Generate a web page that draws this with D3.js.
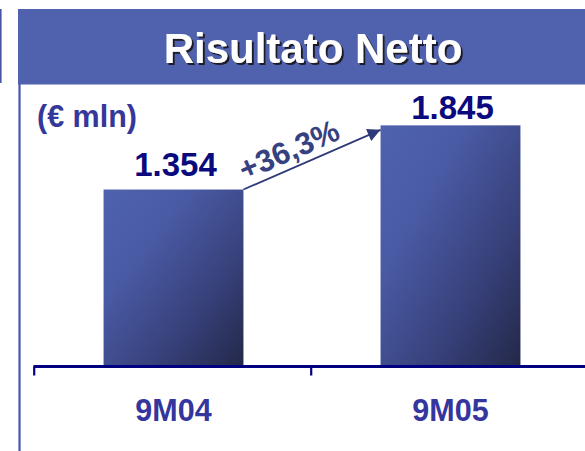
<!DOCTYPE html>
<html>
<head>
<meta charset="utf-8">
<script src="https://cdn.jsdelivr.net/npm/d3@7/dist/d3.min.js"></script>
<style>
  html, body { margin: 0; padding: 0; background: #fff; }
  svg { display: block; }
  text { font-family: "Liberation Sans", Arial, Helvetica, sans-serif; font-weight: bold; }
</style>
</head>
<body>
<svg id="chart" width="585" height="451"></svg>
<script>
// ---- data ----
const categories = ["9M04", "9M05"];
const values = [1354, 1845];
const valueLabels = ["1.354", "1.845"];
const growthLabel = "+36,3%";
const titleText = "Risultato Netto";
const unitText = "(€ mln)";

// ---- layout ----
const W = 585, H = 451;
const svg = d3.select("#chart");

const x = d3.scaleBand().domain(categories).range([35, 589]).padding(0);
const barW = x.bandwidth() * 0.505;
const y = d3.scaleLinear().domain([0, 2000]).range([366.5, 105.1]);

// gradient
const defs = svg.append("defs");
const grad = defs.append("linearGradient").attr("id", "barGrad")
  .attr("x1", 0).attr("y1", 0).attr("x2", 1).attr("y2", 1);
grad.append("stop").attr("offset", 0).attr("stop-color", "#4f62ae");
grad.append("stop").attr("offset", 0.3).attr("stop-color", "#4a5ba6");
grad.append("stop").attr("offset", 0.7).attr("stop-color", "#363f77");
grad.append("stop").attr("offset", 1).attr("stop-color", "#232848");

const shadow = defs.append("filter").attr("id", "titleShadow")
  .attr("x", "-10%").attr("y", "-20%").attr("width", "130%").attr("height", "150%");
shadow.append("feDropShadow").attr("dx", 2).attr("dy", 2).attr("stdDeviation", 0.4)
  .attr("flood-color", "#1c1c2a").attr("flood-opacity", 1);

defs.append("marker").attr("id", "arrowHead")
  .attr("viewBox", "0 0 10 10").attr("refX", 10).attr("refY", 5)
  .attr("markerUnits", "userSpaceOnUse")
  .attr("markerWidth", 16).attr("markerHeight", 13)
  .attr("orient", "auto")
  .append("path").attr("d", "M0,0 L10,5 L0,10 Z").attr("fill", "#2f3a78");

// banner
svg.append("rect").attr("x", 18).attr("y", 9).attr("width", W - 18).attr("height", 75.5)
  .attr("fill", "#5062ae");
// left decorative lines
svg.append("line").attr("x1", 0.8).attr("x2", 0.8).attr("y1", 9).attr("y2", 83)
  .attr("stroke", "#4a55a5").attr("stroke-width", 1.6);
svg.append("line").attr("x1", 19.5).attr("x2", 19.5).attr("y1", 84).attr("y2", H)
  .attr("stroke", "#4a55a8").attr("stroke-width", 2.2);

// title with shadow
svg.append("text").attr("x", 313).attr("y", 63)
  .attr("text-anchor", "middle").attr("font-size", 42).attr("fill", "#ffffff")
  .attr("filter", "url(#titleShadow)")
  .text(titleText);

// unit label
svg.append("text").attr("x", 37).attr("y", 127)
  .attr("font-size", 30.5).attr("fill", "#35379a")
  .text(unitText);

// bars
svg.selectAll("rect.bar").data(values).enter().append("rect")
  .attr("class", "bar")
  .attr("x", (d, i) => x(categories[i]) + (x.bandwidth() - barW) / 2)
  .attr("y", d => y(d))
  .attr("width", barW)
  .attr("height", d => y(0) - y(d))
  .attr("fill", "url(#barGrad)");

// value labels
const labelOffsets = [13.5, 6.5];
svg.selectAll("text.val").data(values).enter().append("text")
  .attr("class", "val")
  .attr("x", (d, i) => x(categories[i]) + x.bandwidth() / 2 + 2)
  .attr("y", (d, i) => y(d) - labelOffsets[i])
  .attr("text-anchor", "middle").attr("font-size", 33).attr("fill", "#0a0a7e")
  .text((d, i) => valueLabels[i]);

// axis
const axisY = y(0);
svg.append("line").attr("x1", 33.5).attr("x2", W).attr("y1", axisY).attr("y2", axisY)
  .attr("stroke", "#000080").attr("stroke-width", 3);
svg.selectAll("line.tick").data(categories).enter().append("line")
  .attr("class", "tick")
  .attr("x1", d => x(d) - 0.8).attr("x2", d => x(d) - 0.8)
  .attr("y1", axisY).attr("y2", axisY + 9)
  .attr("stroke", "#000080").attr("stroke-width", 2.2);
svg.selectAll("text.cat").data(categories).enter().append("text")
  .attr("class", "cat")
  .attr("x", d => x(d) + x.bandwidth() / 2)
  .attr("y", 420.5)
  .attr("text-anchor", "middle").attr("font-size", 30.5).attr("fill", "#35359e")
  .text(d => d);

// growth arrow
const x0 = x(categories[0]) + (x.bandwidth() - barW) / 2 + barW;
const y0 = y(values[0]);
const x1 = x(categories[1]) + (x.bandwidth() - barW) / 2;
const y1 = y(values[1]) + 4.5;
svg.append("line").attr("x1", x0).attr("y1", y0).attr("x2", x1).attr("y2", y1)
  .attr("stroke", "#2f3a78").attr("stroke-width", 1.8)
  .attr("marker-end", "url(#arrowHead)");

const ang = Math.atan2(y1 - y0, x1 - x0);
const ux = Math.cos(ang), uy = Math.sin(ang);
const nx = uy, ny = -ux; // "up" normal
const along = 4.5, up = 7.5;
const tx = x0 + along * ux + up * nx;
const ty = y0 + along * uy + up * ny;
svg.append("text")
  .attr("transform", `translate(${tx},${ty}) rotate(${ang * 180 / Math.PI})`)
  .attr("font-size", 31).attr("fill", "#36427f")
  .text(growthLabel);
</script>
</body>
</html>
